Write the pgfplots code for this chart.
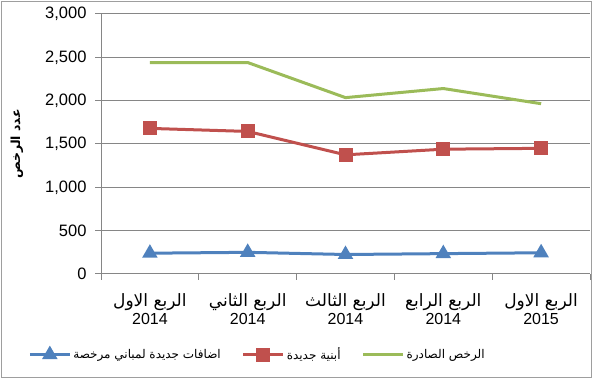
\documentclass[border=0pt]{standalone}
\usepackage{fontspec}
\setmainfont{Liberation Sans}
\newfontfamily\ar[Script=Arabic]{DejaVu Sans}
\TeXXeTstate=1
\usepackage{pgfplots}
\pgfplotsset{compat=1.18}
\definecolor{cblue}{HTML}{4F81BD}
\definecolor{cred}{HTML}{C0504D}
\definecolor{cgreen}{HTML}{9BBB59}
\definecolor{cgrid}{HTML}{868686}
\newcommand{\arl}{\fontsize{17}{19}\selectfont\ar}
\begin{document}
\begin{tikzpicture}
\path[use as bounding box] (0,0) rectangle (593pt,379pt);
\draw[color=cgrid!80, line width=1pt] (1pt,1pt) rectangle (591.5pt,377.5pt);
\begin{axis}[
  at={(101pt,105pt)}, anchor=south west,
  scale only axis, width=489pt, height=260pt,
  xmin=-0.5, xmax=4.5, ymin=0, ymax=3000,
  ytick={0,500,...,3000},
  xtick={0,1,2,3,4},
  minor xtick={-0.5,0.5,1.5,2.5,3.5,4.5},
  xticklabels={
    {{\arl\beginR الربع الاول\endR}\\2014},
    {{\arl\beginR الربع الثاني\endR}\\2014},
    {{\arl\beginR الربع الثالث\endR}\\2014},
    {{\arl\beginR الربع الرابع\endR}\\2014},
    {{\arl\beginR الربع الاول\endR}\\2015}},
  xticklabel style={align=center, font=\fontsize{16}{18}\selectfont, yshift=-10pt},
  yticklabel style={font=\fontsize{16.5}{19}\selectfont, xshift=-5pt},
  /pgf/number format/assume math mode=true,
  /pgf/number format/.cd, fixed, 1000 sep={,}, /pgfplots/.cd,
  scaled y ticks=false,
  axis lines*=left,
  axis line style={-, cgrid, line width=1pt},
  ymajorgrids, grid style={cgrid, line width=1pt},
  major tick style={cgrid, line width=1pt},
  minor tick style={cgrid, line width=1pt},
  tick align=outside,
  major tick length=6pt, minor tick length=6pt,
  xtick style={draw=none},
  minor x tick style={draw=cgrid},
  ylabel={\ar\bfseries\beginR عدد الرخص\endR},
  ylabel style={at={(axis description cs:-0.172,0.5)}, anchor=center, font=\fontsize{12.5}{15}\selectfont},
  legend columns=3,
  legend cell align=left,
  legend style={at={(axis description cs:-0.149,-0.31)}, anchor=west, draw=none, fill=none, inner sep=0pt,
    font=\fontsize{12}{14}\selectfont,
    /tikz/every even column/.append style={column sep=19pt}},
  legend image code/.code={
    \draw[mark repeat=2,mark phase=2,#1] plot coordinates {(0pt,0pt) (20pt,0pt) (40pt,0pt)};
  },
]
\addplot[color=cblue, line width=3pt, mark=triangle*, mark size=6pt, mark options={solid}] coordinates {(0,240) (1,250) (2,225) (3,235) (4,245)};
\addlegendentry{\ar\beginR اضافات جديدة لمباني مرخصة\endR}
\addplot[color=cred, line width=3pt, mark=square*, mark size=5.5pt] coordinates {(0,1680) (1,1645) (2,1375) (3,1440) (4,1450)};
\addlegendentry{\ar\beginR أبنية جديدة\endR}
\addplot[color=cgreen, line width=3pt, mark=none] coordinates {(0,2440) (1,2440) (2,2035) (3,2140) (4,1965)};
\addlegendentry{\ar\beginR الرخص الصادرة\endR}
\end{axis}
\end{tikzpicture}
\end{document}
